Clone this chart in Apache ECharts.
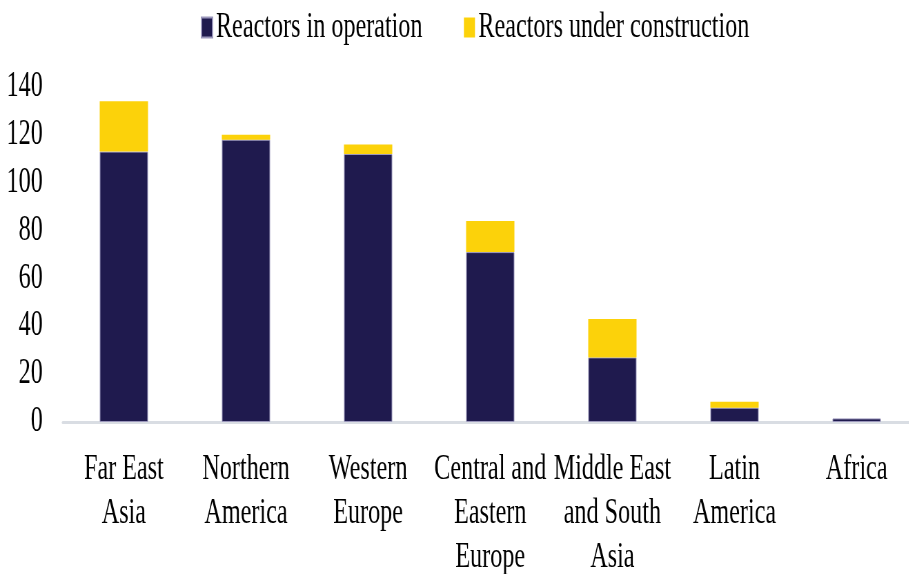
<!DOCTYPE html>
<html>
<head>
<meta charset="utf-8">
<script src="https://cdn.jsdelivr.net/npm/echarts@6/dist/echarts.min.js"></script>
<style>
  html, body { margin: 0; padding: 0; background: #fff; overflow: hidden; }
  /* the source picture is squeezed sideways, so draw wide and squeeze the same way */
  #chart { width: 1330px; height: 574px; transform: scaleX(0.69); transform-origin: 0 0; }
</style>
</head>
<body>
<div id="chart"></div>
<script>
const regions = ['Far East\nAsia', 'Northern\nAmerica', 'Western\nEurope', 'Central and\nEastern\nEurope', 'Middle East\nand South\nAsia', 'Latin\nAmerica', 'Africa']
const inOperation = [113, 118, 112, 71, 27, 6, 1.5]
const underConstruction = [21, 2, 4, 13, 16, 2.5, 0]
const seriesNames = ['Reactors in operation', 'Reactors under construction']

const FONT = 'Liberation Serif'
const chart = echarts.init(document.getElementById('chart'))

chart.setOption({
  animation: false,
  textStyle: { fontFamily: FONT, color: '#000' },
  legend: {
    left: 286,
    top: 5,
    itemWidth: 16,
    itemHeight: 20,
    itemGap: 60,
    icon: 'rect',
    textStyle: { fontFamily: FONT, fontSize: 35, color: '#000' },
    data: seriesNames
  },
  // keep the plot where it is even though the 3-line labels reach the bottom edge
  grid: { left: 91, right: 0, top: 87, bottom: 152, outerBoundsMode: 'none' },
  xAxis: {
    type: 'category',
    data: regions,
    axisLine: { lineStyle: { color: '#d9dde3', width: 3 } },
    axisTick: { show: false },
    axisLabel: {
      interval: 0,
      margin: 26,
      fontFamily: FONT,
      fontSize: 35,
      lineHeight: 44,
      color: '#000'
    }
  },
  yAxis: {
    type: 'value',
    min: 0,
    max: 140,
    interval: 20,
    axisLine: { show: false },
    axisTick: { show: false },
    splitLine: { show: false },
    axisLabel: { margin: 29, fontFamily: FONT, fontSize: 35, color: '#000' }
  },
  series: [
    {
      name: seriesNames[0],
      type: 'bar',
      stack: 'total',
      barWidth: 70,
      data: inOperation,
      itemStyle: { color: '#1f1a4e', borderColor: '#9b97bb', borderWidth: 1 }
    },
    {
      name: seriesNames[1],
      type: 'bar',
      stack: 'total',
      barWidth: 70,
      data: underConstruction,
      // no border, so Africa's zero bar leaves no yellow hairline
      itemStyle: { color: '#fcd20a', borderWidth: 0 }
    }
  ]
})
</script>
</body>
</html>
